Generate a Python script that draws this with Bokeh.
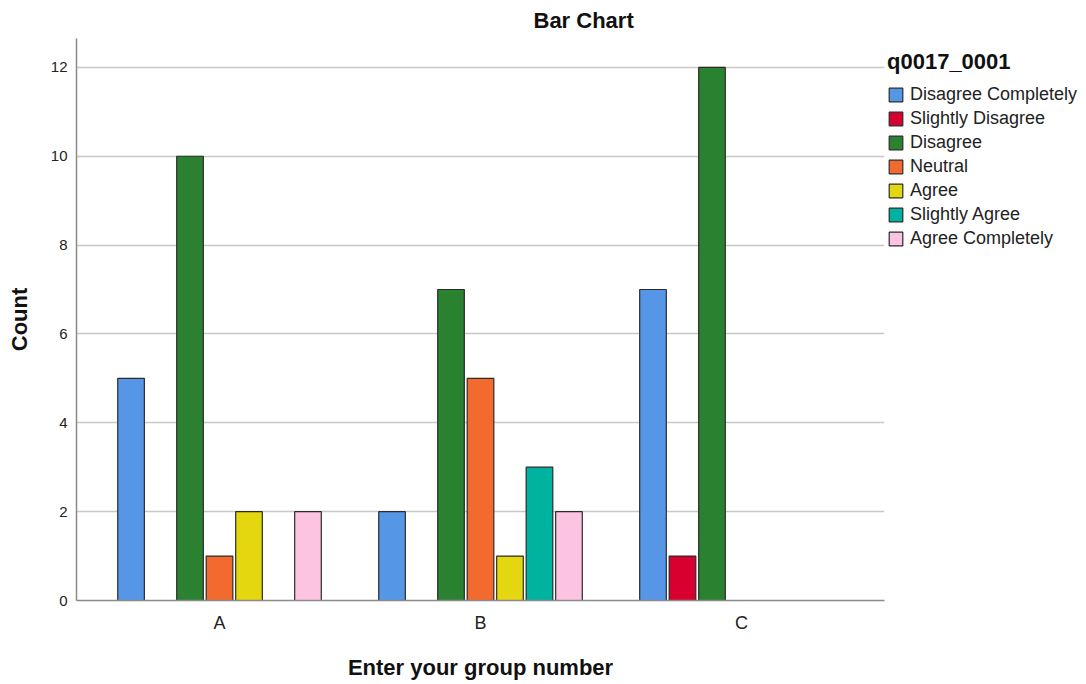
from bokeh.plotting import figure
from bokeh.models import (ColumnDataSource, FactorRange, Range1d, Legend, LegendItem,
                          FixedTicker)
from bokeh.transform import dodge
from bokeh.embed import file_html
from bokeh.resources import INLINE

groups = ["A", "B", "C"]
categories = ["Disagree Completely", "Slightly Disagree", "Disagree", "Neutral",
              "Agree", "Slightly Agree", "Agree Completely"]
colors = ["#5596e6", "#d8002f", "#2a8230", "#f26a2d", "#e5d70f", "#00b2a0", "#fdc4e1"]
disagree_completely = [5, 2, 7]
slightly_disagree = [0, 0, 1]
disagree = [10, 7, 12]
neutral = [1, 5, 0]
agree = [2, 1, 0]
slightly_agree = [0, 3, 0]
agree_completely = [2, 2, 0]
series = [disagree_completely, slightly_disagree, disagree, neutral, agree,
          slightly_agree, agree_completely]
y_ticks = [0, 2, 4, 6, 8, 10, 12]

FONT = "Liberation Sans"

p = figure(x_range=FactorRange(factors=groups, range_padding=0.032),
           y_range=Range1d(0, 12.65),
           frame_width=808, frame_height=562,
           min_border_left=76, min_border_top=38, min_border_bottom=70,
           min_border_right=186,
           title="Bar Chart",
           output_backend="svg", toolbar_location=None)

p.title.align = "left"
p.title.offset = 457
p.title.text_font = FONT
p.title.text_font_size = "22px"
p.title.text_font_style = "bold"
p.title.text_color = "#111111"
p.title.standoff = 11

step = 0.113
width = 0.102
items = []
for i, (cat, vals, col) in enumerate(zip(categories, series, colors)):
    g = [grp for grp, v in zip(groups, vals) if v > 0]
    v = [val for val in vals if val > 0]
    src = ColumnDataSource(dict(group=g, count=v))
    r = p.vbar(x=dodge("group", (i - 3) * step, range=p.x_range), top="count",
               width=width, source=src, fill_color=col, line_color="#2b2b2b",
               line_width=1.2)
    items.append(LegendItem(label=cat, renderers=[r]))

legend = Legend(items=items, location=(3, 351), padding=0, margin=0,
                border_line_color=None, background_fill_alpha=0,
                title="q0017_0001", title_text_font=FONT,
                title_text_font_size="22px", title_text_font_style="bold",
                title_text_color="#111111", title_standoff=9,
                glyph_width=17, glyph_height=17, label_height=17, spacing=3,
                label_standoff=6, label_text_font=FONT,
                label_text_font_size="18px", label_text_color="#222222")
p.add_layout(legend, "right")

p.outline_line_color = None
p.xgrid.grid_line_color = None
p.ygrid.grid_line_color = "#c8c8c8"
p.ygrid.grid_line_width = 1.3
p.yaxis.ticker = FixedTicker(ticks=y_ticks)

for ax in (p.xaxis[0], p.yaxis[0]):
    ax.axis_line_color = "#8a8a8a"
    ax.axis_line_width = 1.5
    ax.major_tick_line_color = None
    ax.minor_tick_line_color = None
    ax.major_tick_out = 0
    ax.major_tick_in = 0
    ax.minor_tick_out = 0
    ax.axis_label_text_font = FONT
    ax.axis_label_text_font_style = "bold"
    ax.axis_label_text_font_size = "22px"
    ax.axis_label_text_color = "#111111"
    ax.major_label_text_font = FONT
    ax.major_label_text_color = "#222222"

p.xaxis.axis_label = "Enter your group number"
p.xaxis.major_label_text_font_size = "18px"
p.xaxis.major_label_standoff = 12
p.xaxis.axis_label_standoff = 19
p.yaxis.axis_label = "Count"
p.yaxis.major_label_text_font_size = "15px"
p.yaxis.major_label_standoff = 9
p.yaxis.axis_label_standoff = 16

open("out.html", "w").write(file_html(p, INLINE))
